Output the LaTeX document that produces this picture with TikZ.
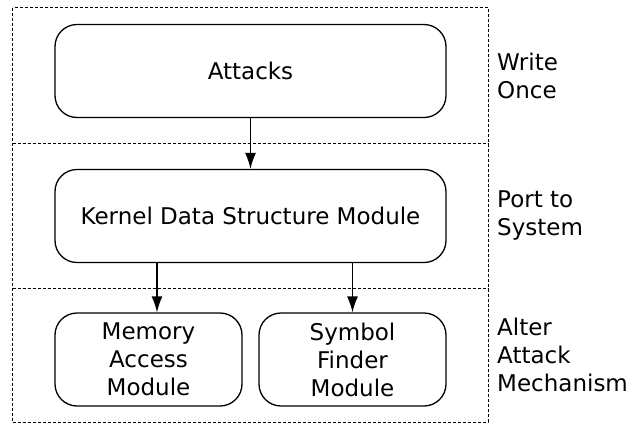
\documentclass[tikz,border=0pt]{standalone}
\usepackage{fontspec}
\setmainfont{DejaVu Sans}
\usetikzlibrary{arrows.meta}
\begin{document}
\begin{tikzpicture}[x=1pt,y=-1pt,
  every node/.style={font=\fontsize{23}{28}\selectfont},
  module/.style={draw,line width=1.3pt,rounded corners=22pt,inner sep=0pt,
    minimum height=93pt,align=center},
  band/.style={line width=1pt,dash pattern=on 3pt off 2pt},
  label/.style={anchor=west,align=left,inner sep=0pt},
  flow/.style={line width=1.3pt,-{Latex[length=16pt,width=11pt]}}]
\useasboundingbox (0,0) rectangle (643,424);
% layer bands: one frame, two separators
\draw[band] (12.5,7.5) rectangle (488,422);
\draw[band] (12.5,143.5) -- (488,143.5);
\draw[band] (12.5,288) -- (488,288);
% modules
\node[module,minimum width=391pt] (atk) at (250.5,71) {Attacks};
\node[module,minimum width=391pt] (kds) at (250.5,216) {Kernel Data Structure Module};
\node[module,minimum width=187pt] (mem) at (148.5,359.5) {Memory\\Access\\Module};
\node[module,minimum width=187pt] (sym) at (352.5,359.5) {Symbol\\Finder\\Module};
% band labels
\node[label] (l1) at (497,75.5) {Write\\Once};
\node[label] (l2) at (497,215.7) {Port to\\System};
\node[label] (l3) at (497,355) {Alter\\Attack\\Mechanism};
% connectors
\draw[flow] (atk.south) -- (kds.north);
\coordinate (m1) at ([xshift=8.5pt]mem.north);
\draw[flow] (m1 |- kds.south) -- (m1);
\draw[flow] (sym.north |- kds.south) -- (sym.north);
\end{tikzpicture}
\end{document}
